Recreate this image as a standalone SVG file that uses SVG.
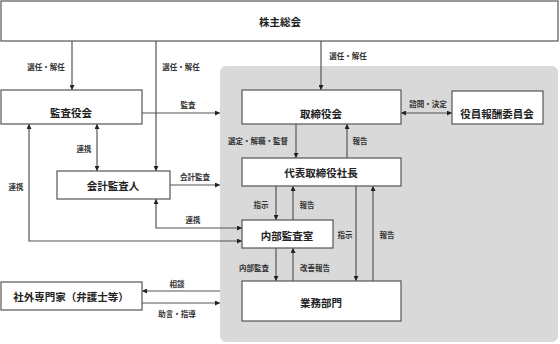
<svg xmlns="http://www.w3.org/2000/svg" width="560" height="344" viewBox="0 0 560 344">
<style>
.box{fill:#fff;stroke:#555;stroke-width:1.2}
.nt{font-family:"Noto Sans CJK JP",sans-serif;font-size:10.5px;font-weight:bold;fill:#222;text-anchor:middle;dominant-baseline:central}
.lb{font-family:"Noto Sans CJK JP",sans-serif;font-size:7.5px;font-weight:bold;fill:#333;text-anchor:middle;dominant-baseline:central}
.ln{fill:none;stroke:#555;stroke-width:1.2}
</style>
<defs>
<marker id="ah" viewBox="0 0 8 8" refX="8" refY="4" markerWidth="5" markerHeight="5" orient="auto-start-reverse" markerUnits="userSpaceOnUse"><path d="M0,0 L8,4 L0,8 z" fill="#222"/></marker>
</defs>
<rect x="220" y="66" width="338" height="276" rx="6" fill="#d9d9d9"/>
<g id="connectors">
<path class="ln" d="M72,41 V90" marker-end="url(#ah)"/>
<path class="ln" d="M156,41 V171" marker-end="url(#ah)"/>
<path class="ln" d="M321,41 V90" marker-end="url(#ah)"/>
<path class="ln" d="M142,113 H220" marker-end="url(#ah)"/>
<path class="ln" d="M401,113 H452" marker-start="url(#ah)" marker-end="url(#ah)"/>
<path class="ln" d="M97,124 V171" marker-start="url(#ah)" marker-end="url(#ah)"/>
<path class="ln" d="M170,185 H220" marker-end="url(#ah)"/>
<path class="ln" d="M29,124 V241 H242" marker-start="url(#ah)" marker-end="url(#ah)"/>
<path class="ln" d="M156,199 V228 H242" marker-start="url(#ah)" marker-end="url(#ah)"/>
<path class="ln" d="M296,124 V158" marker-end="url(#ah)"/>
<path class="ln" d="M347,158 V124" marker-end="url(#ah)"/>
<path class="ln" d="M276,186 V220" marker-end="url(#ah)"/>
<path class="ln" d="M293,220 V186" marker-end="url(#ah)"/>
<path class="ln" d="M356,186 V281" marker-end="url(#ah)"/>
<path class="ln" d="M373,281 V186" marker-end="url(#ah)"/>
<path class="ln" d="M276,248 V281" marker-end="url(#ah)"/>
<path class="ln" d="M293,281 V248" marker-end="url(#ah)"/>
<path class="ln" d="M220,291 H142" marker-end="url(#ah)"/>
<path class="ln" d="M142,303 H220" marker-end="url(#ah)"/>
<text class="lb" x="46" y="66">選任・解任</text>
<text class="lb" x="181" y="66">選任・解任</text>
<text class="lb" x="348" y="55">選任・解任</text>
<text class="lb" x="188" y="104">監査</text>
<text class="lb" x="428" y="103">諮問・決定</text>
<text class="lb" x="84" y="148">連携</text>
<text class="lb" x="16" y="186">連携</text>
<text class="lb" x="195" y="176">会計監査</text>
<text class="lb" x="193" y="219">連携</text>
<text class="lb" x="258" y="140">選定・解職・監督</text>
<text class="lb" x="360" y="140">報告</text>
<text class="lb" x="261" y="204">指示</text>
<text class="lb" x="307" y="204">報告</text>
<text class="lb" x="345" y="234">指示</text>
<text class="lb" x="387" y="234">報告</text>
<text class="lb" x="254" y="267">内部監査</text>
<text class="lb" x="315" y="267">改善報告</text>
<text class="lb" x="177" y="283">相談</text>
<text class="lb" x="177" y="313">助言・指導</text>
</g>
<g id="shareholders"><rect class="box" x="1" y="1" width="557" height="40"/><text class="nt" x="280" y="21">株主総会</text></g>
<g id="auditboard"><rect class="box" x="1" y="90" width="141" height="34"/><text class="nt" x="71" y="112">監査役会</text></g>
<g id="board"><rect class="box" x="242" y="90" width="159" height="34"/><text class="nt" x="321" y="113">取締役会</text></g>
<g id="compensation"><rect class="box" x="452" y="91" width="91" height="33"/><text class="nt" x="497" y="113">役員報酬委員会</text></g>
<g id="accountingauditor"><rect class="box" x="57" y="171" width="113" height="28"/><text class="nt" x="113" y="185">会計監査人</text></g>
<g id="president"><rect class="box" x="242" y="158" width="159" height="28"/><text class="nt" x="321" y="172">代表取締役社長</text></g>
<g id="internalaudit"><rect class="box" x="242" y="220" width="91" height="28"/><text class="nt" x="287" y="235">内部監査室</text></g>
<g id="operations"><rect class="box" x="242" y="281" width="159" height="40"/><text class="nt" x="321" y="302">業務部門</text></g>
<g id="experts"><rect class="box" x="1" y="282" width="141" height="28"/><text class="nt" x="71" y="296">社外専門家（弁護士等）</text></g>
</svg>
